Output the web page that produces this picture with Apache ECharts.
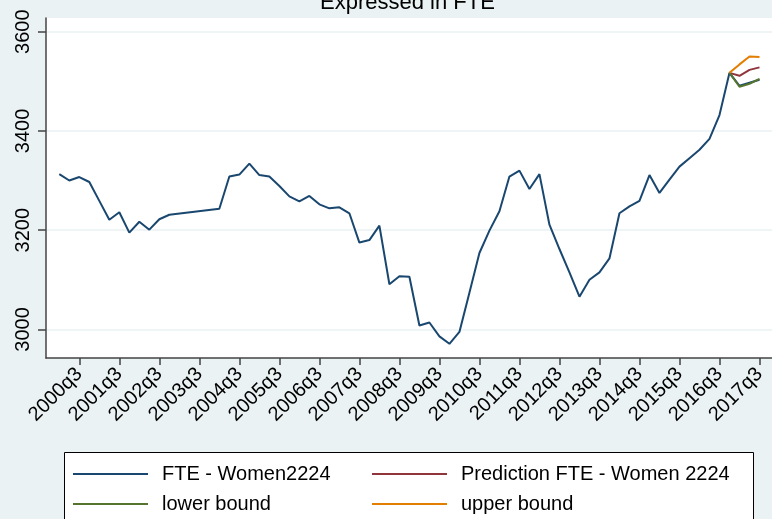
<!DOCTYPE html>
<html>
<head>
<meta charset="utf-8">
<script src="https://cdn.jsdelivr.net/npm/echarts@6/dist/echarts.min.js"></script>
<style>
html,body{margin:0;padding:0;background:#EAF2F3;}
#c{width:772px;height:519px;}
</style>
</head>
<body>
<div id="c"></div>
<script>
// ---- data ----
const fteQuarters = [
  '2000q1','2000q2','2000q3','2000q4','2001q1','2001q2','2001q3','2001q4',
  '2002q1','2002q2','2002q3','2002q4','2003q1','2003q2','2003q3','2003q4',
  '2004q1','2004q2','2004q3','2004q4','2005q1','2005q2','2005q3','2005q4',
  '2006q1','2006q2','2006q3','2006q4','2007q1','2007q2','2007q3','2007q4',
  '2008q1','2008q2','2008q3','2008q4','2009q1','2009q2','2009q3','2009q4',
  '2010q1','2010q2','2010q3','2010q4','2011q1','2011q2','2011q3','2011q4',
  '2012q1','2012q2','2012q3','2012q4','2013q1','2013q2','2013q3','2013q4',
  '2014q1','2014q2','2014q3','2014q4','2015q1','2015q2','2015q3','2015q4',
  '2016q1','2016q2','2016q3','2016q4','2017q1','2017q2','2017q3'
];
const fteValues = [
  3313, 3300, 3307, 3297, 3259, 3221, 3236, 3195,
  3217, 3201, 3222, 3231, null, null, null, null,
  3243, 3308, 3312, 3334, 3311, 3308, 3289, 3268,
  3258, 3269, 3252, 3244, 3246, 3234, 3175, 3180,
  3209, 3091, 3107, 3106, 3008, 3014, 2986, 2971,
  2995, 3074, 3154, 3199, 3238, 3308, 3320, 3283,
  3313, 3211, 3162, 3115, 3066, 3100, 3115, 3143,
  3234, 3248, 3259, 3311, 3275, 3302, 3328, 3345,
  3362, 3384, 3432, 3517, 3491, 3497, 3503
];
const fcQuarters  = ['2016q4','2017q1','2017q2','2017q3'];
const predValues  = [3517, 3511, 3523, 3528];
const lowerValues = [3517, 3489, 3495, 3505];
const upperValues = [3517, 3534, 3550, 3549];

const xTickLabels = ['2000q3','2001q3','2002q3','2003q3','2004q3','2005q3','2006q3','2007q3','2008q3',
                     '2009q3','2010q3','2011q3','2012q3','2013q3','2014q3','2015q3','2016q3','2017q3'];
const yTickValues = [3000, 3200, 3400, 3600];

// ---- helpers ----
const FONT = "'Liberation Sans', Arial, sans-serif";
const qIdx = s => (parseInt(s.slice(0, 4), 10) - 2000) * 4 + parseInt(s.slice(5), 10) - 1;
const pairs = (qs, vs) => qs.map((q, i) => [qIdx(q), vs[i]]).filter(p => p[1] != null);
const xTickValues = xTickLabels.map(qIdx);

const AX = '#444';
const mkSeries = (name, color, qs, vs) => ({
  name, type: 'line', data: pairs(qs, vs), showSymbol: false, symbol: 'none',
  color, lineStyle: { color, width: 2 }, itemStyle: { color }, emphasis: { disabled: true }
});

const option = {
  animation: false,
  backgroundColor: '#EAF2F3',
  title: {
    text: 'Expressed in FTE', left: 320, top: -8, padding: 0,
    textStyle: { fontFamily: FONT, fontSize: 22, fontWeight: 'normal', color: '#000' }
  },
  grid: {
    left: 46, right: 0, top: 18, bottom: 161, show: true, backgroundColor: '#fff', borderWidth: 0,
    containLabel: false, outerBoundsMode: 'none'
  },
  xAxis: {
    type: 'value', min: -1.33, max: 71.25,
    axisLine: { show: true, onZero: false, lineStyle: { color: AX, width: 1.5 } },
    axisTick: { show: true, length: 7, customValues: xTickValues, lineStyle: { color: AX, width: 1.5 } },
    axisLabel: {
      customValues: xTickValues, rotate: 45, margin: 13,
      formatter: v => xTickLabels[xTickValues.indexOf(Math.round(v))] || '',
      fontFamily: FONT, fontSize: 20, color: '#000'
    },
    splitLine: { show: false }
  },
  yAxis: {
    type: 'value', min: 2942.4, max: 3627.5,
    axisLine: { show: true, onZero: false, lineStyle: { color: AX, width: 1.5 } },
    axisTick: { show: true, length: 8, customValues: yTickValues, lineStyle: { color: AX, width: 1.5 } },
    axisLabel: {
      customValues: yTickValues, rotate: 90, margin: 13, formatter: v => String(v),
      fontFamily: FONT, fontSize: 20, color: '#000'
    },
    splitLine: { show: true, lineStyle: { color: '#EAF2F3', width: 1.5 } }
  },
  legend: [
    {
      orient: 'vertical', left: 73, top: 464, padding: 0, itemGap: 10,
      itemWidth: 75, itemHeight: 2, icon: 'rect', selectedMode: false,
      data: ['FTE - Women2224', 'lower bound'],
      textStyle: { fontFamily: FONT, fontSize: 20, color: '#000', padding: [0, 0, 0, 9] }
    },
    {
      orient: 'vertical', left: 372, top: 464, padding: 0, itemGap: 10,
      itemWidth: 75, itemHeight: 2, icon: 'rect', selectedMode: false,
      data: ['Prediction FTE - Women 2224', 'upper bound'],
      textStyle: { fontFamily: FONT, fontSize: 20, color: '#000', padding: [0, 0, 0, 9] }
    }
  ],
  graphic: [{
    type: 'rect', z: 0,
    shape: { x: 64.5, y: 452.5, width: 689, height: 100 },
    style: { fill: '#fff', stroke: '#000', lineWidth: 1 }
  }],
  series: [
    mkSeries('FTE - Women2224', '#1a476f', fteQuarters, fteValues),
    mkSeries('Prediction FTE - Women 2224', '#90353b', fcQuarters, predValues),
    mkSeries('lower bound', '#55752f', fcQuarters, lowerValues),
    mkSeries('upper bound', '#e37e00', fcQuarters, upperValues)
  ]
};

const chart = echarts.init(document.getElementById('c'), null, { renderer: 'canvas' });
chart.setOption(option);
</script>
</body>
</html>
